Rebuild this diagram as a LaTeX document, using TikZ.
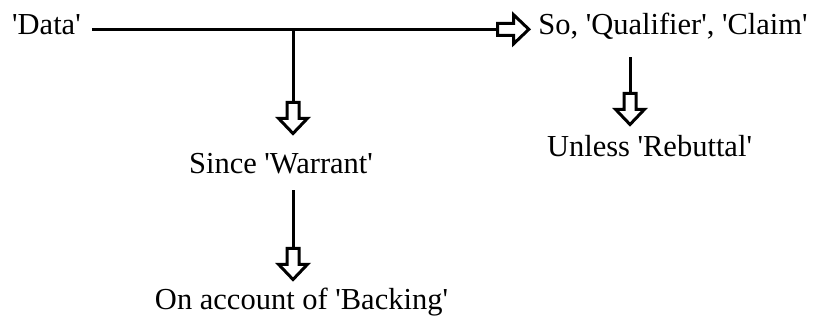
\documentclass[tikz,border=0pt]{standalone}
\usepackage{fontspec}
\setmainfont{Liberation Serif}
\usetikzlibrary{arrows.meta}
\newcommand{\sq}{\textquotesingle}
\pgfdeclarearrow{
  name = HBlock,
  setup code = {
    \pgfarrowssettipend{0pt}
    \pgfarrowssetlineend{-33pt}
    \pgfarrowssetbackend{-35pt}
    \pgfarrowshullpoint{0pt}{0pt}
    \pgfarrowsupperhullpoint{-19pt}{16pt}
    \pgfarrowsupperhullpoint{-35pt}{7.5pt}
  },
  drawing code = {
    \pgfsetlinewidth{3pt}
    \pgfsetmiterjoin
    \pgfsetdash{}{0pt}
    \pgfpathmoveto{\pgfqpoint{-2.3pt}{0pt}}
    \pgfpathlineto{\pgfqpoint{-17.5pt}{14.5pt}}
    \pgfpathlineto{\pgfqpoint{-17.5pt}{6pt}}
    \pgfpathlineto{\pgfqpoint{-33.5pt}{6pt}}
    \pgfpathlineto{\pgfqpoint{-33.5pt}{-6pt}}
    \pgfpathlineto{\pgfqpoint{-17.5pt}{-6pt}}
    \pgfpathlineto{\pgfqpoint{-17.5pt}{-14.5pt}}
    \pgfpathclose
    \pgfusepathqstroke
  }
}
\tikzset{
  txt/.style={inner sep=0pt, anchor=base, text height=21pt, text depth=9.6pt,
    font=\fontsize{30.5}{36}\selectfont},
  conn/.style={line width=3pt, -{HBlock}}
}
\begin{document}
\begin{tikzpicture}[x=1pt,y=1pt]
\useasboundingbox[fill=white] (0,0) rectangle (813,-321);
\node[txt] (data) at (46.5,-35) {\sq Data\sq};
\node[txt] (claim) at (673,-35) {So, \sq Qualifier\sq, \sq Claim\sq};
\node[txt] (warrant) at (281,-173) {Since \sq Warrant\sq};
\node[txt] (rebuttal) at (649.5,-156) {Unless \sq Rebuttal\sq};
\node[txt] (backing) at (301.5,-309) {On account of \sq Backing\sq};
\coordinate (j) at (293,-29.3);
\coordinate (k) at (630,-29.3);
\draw[conn, shorten <=11pt, shorten >=7pt] (data.east) -- (claim.west);
\draw[conn, shorten >=16pt] (j) -- (j |- warrant.north);
\draw[conn, shorten <=7.4pt, shorten >=6pt] (j |- warrant.south) -- (j |- backing.north);
\draw[conn, shorten <=12.4pt, shorten >=8pt] (k |- claim.south) -- (k |- rebuttal.north);
\end{tikzpicture}
\end{document}
